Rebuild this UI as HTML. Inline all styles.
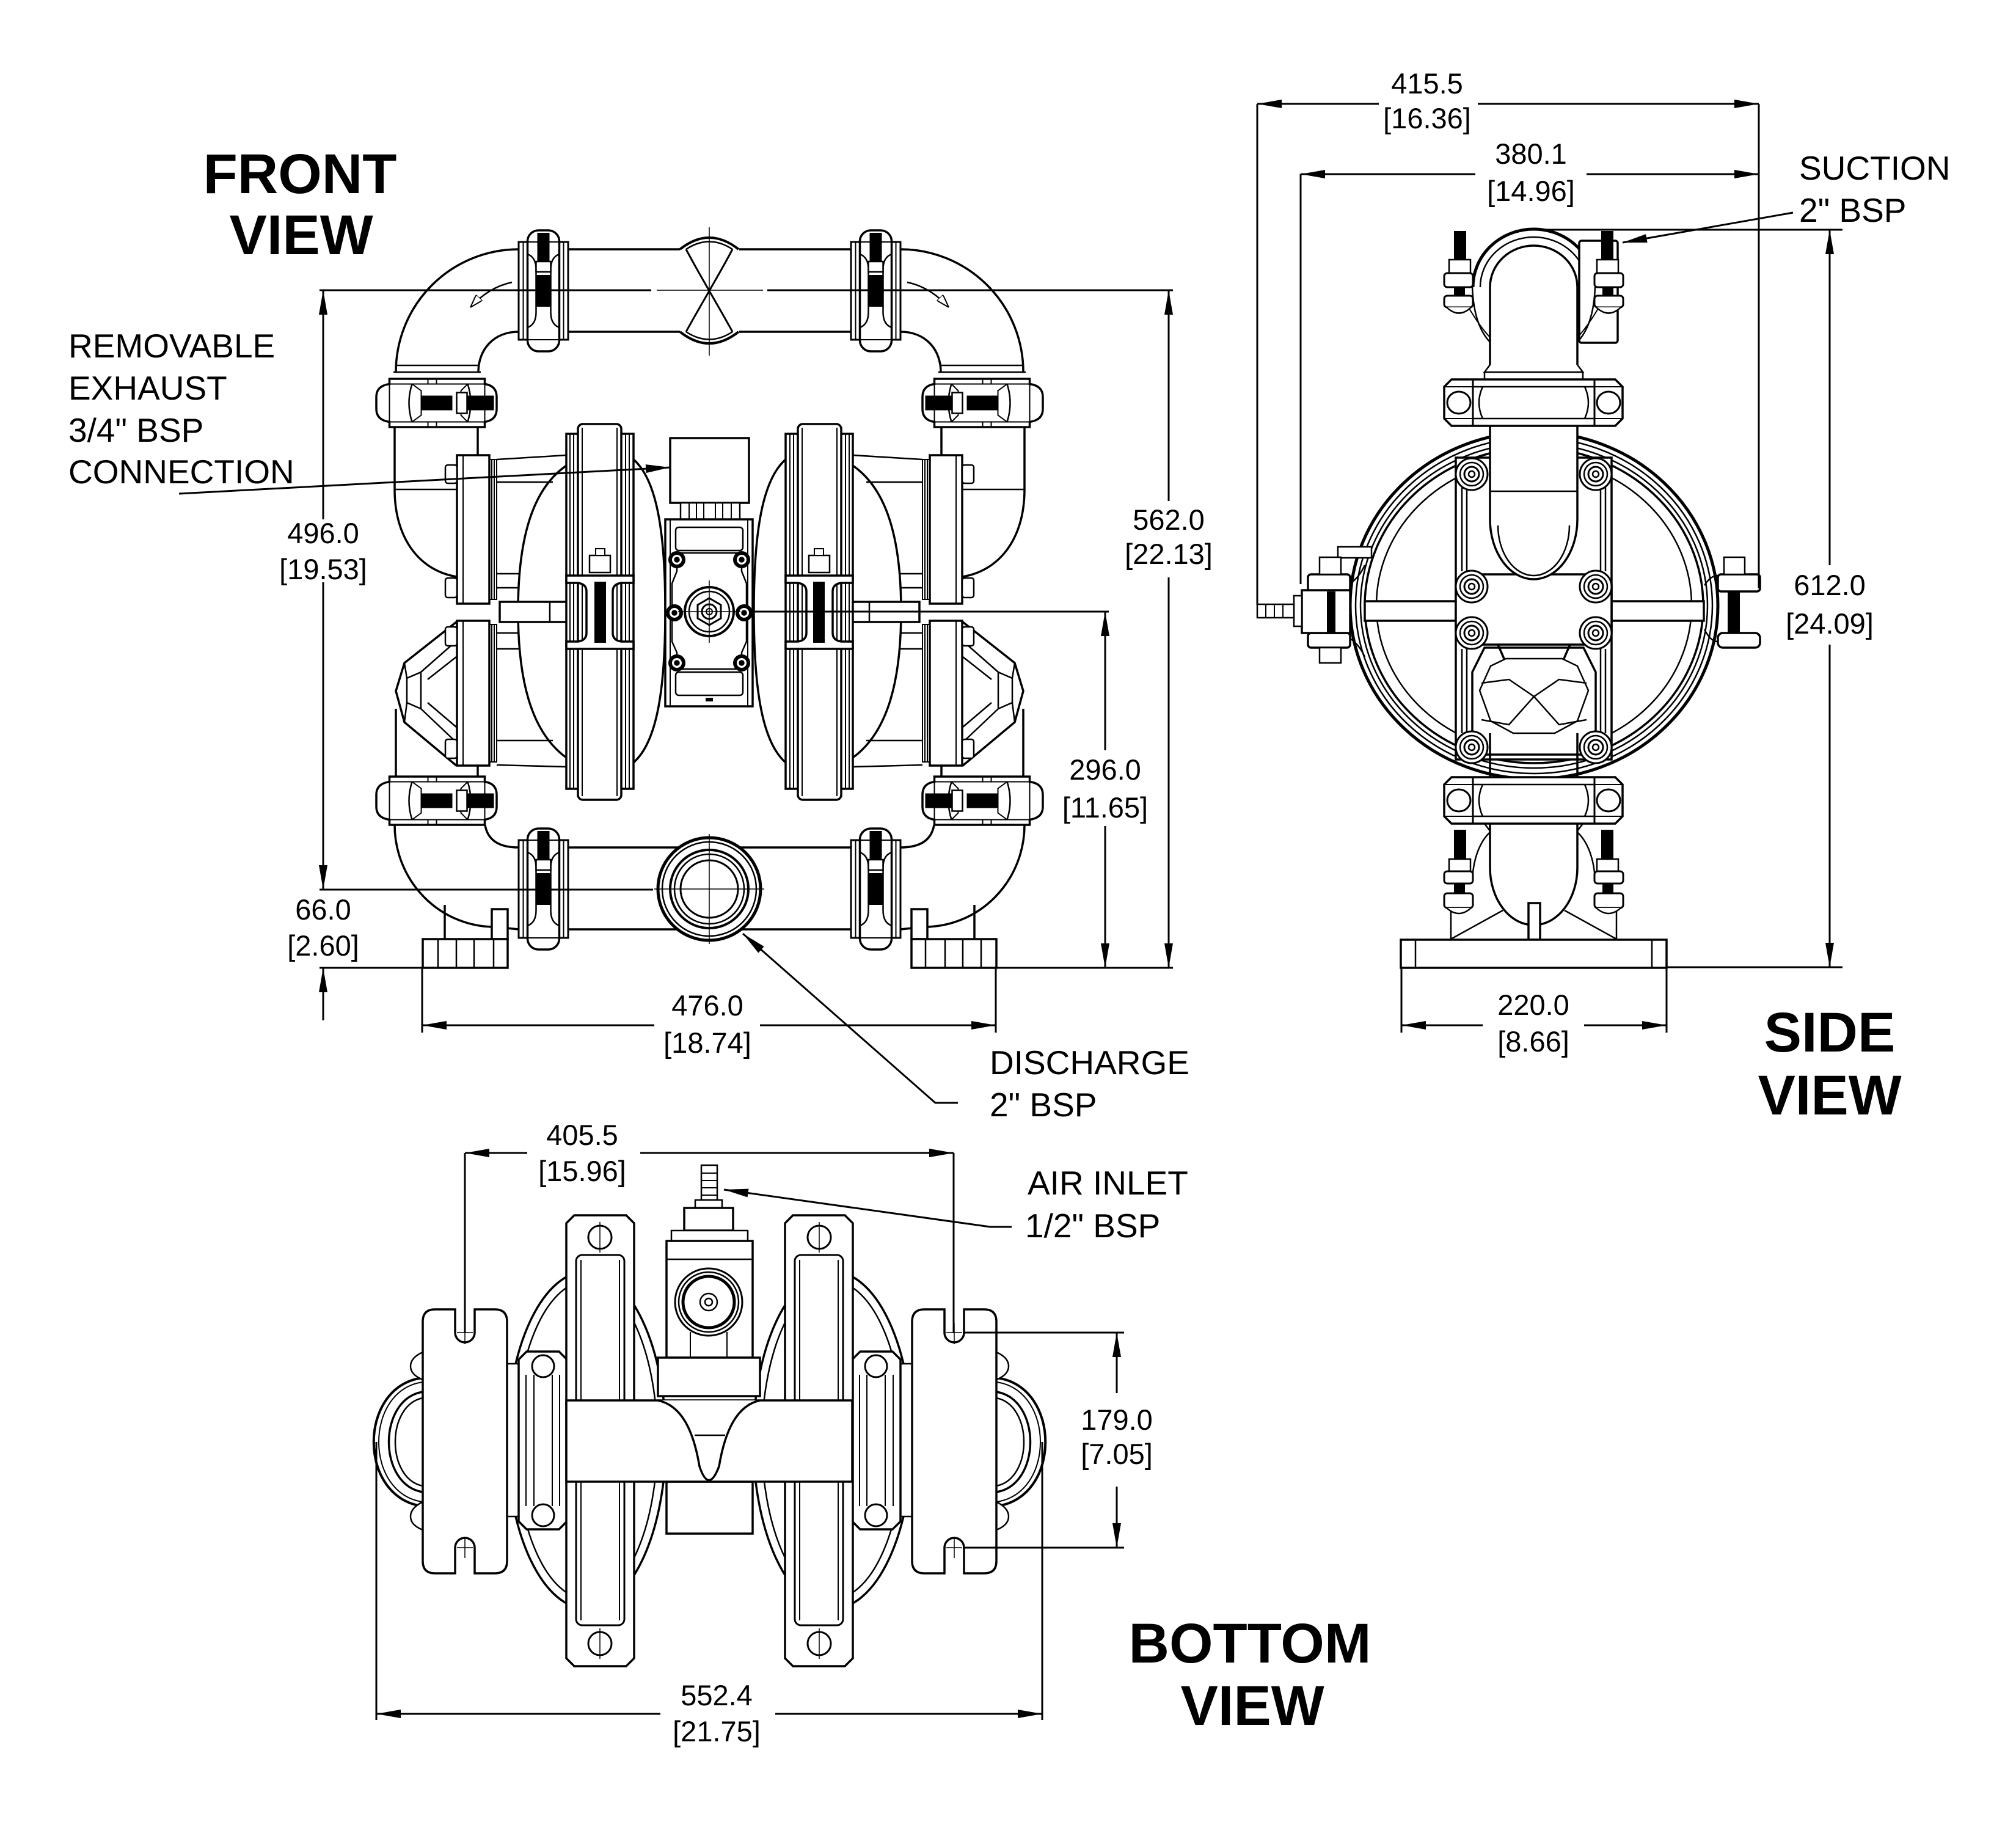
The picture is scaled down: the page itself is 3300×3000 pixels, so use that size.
<!DOCTYPE html>
<html><head><meta charset="utf-8">
<style>
html,body{margin:0;padding:0;background:#fff;}
svg{display:block;}
text{font-family:"Liberation Sans",Arial,sans-serif;fill:#000;stroke:none;}
.d{font-size:47px;text-anchor:middle;}
.l{font-size:55px;}
.t{font-size:92px;font-weight:bold;text-anchor:middle;}
</style></head><body>
<svg width="3300" height="3000" viewBox="0 0 3300 3000" xmlns="http://www.w3.org/2000/svg">
<defs>
<marker id="ar" viewBox="0 0 40 14" refX="40" refY="7" markerWidth="40" markerHeight="14" orient="auto" markerUnits="userSpaceOnUse"><path d="M0,0L40,7L0,14z" fill="#000"/></marker>
<marker id="sm" viewBox="0 0 22 14" refX="22" refY="7" markerWidth="22" markerHeight="14" orient="auto" markerUnits="userSpaceOnUse"><path d="M0,0L22,7L0,14z" fill="#fff" stroke="#000" stroke-width="2"/></marker>
<g id="hc" stroke="#000" fill="#fff">
 <path d="M-77,-39.5 L79,-39.5 L79,-31 Q98.5,-28 98.5,-10 L98.5,10 Q98.5,28 79,31 L79,39.5 L-77,39.5 L-77,31 Q-98.5,28 -98.5,10 L-98.5,-10 Q-98.5,-28 -77,-31 Z" stroke-width="3.5"/>
 <path d="M-77,-31 L79,-31 M-77,31 L79,31 M-77,-31 L-77,31 M79,-31 L79,31" fill="none" stroke-width="2"/>
 <path d="M-40,-31 Q-50,0 -40,31 M51,-31 Q61,0 51,31" fill="none" stroke-width="2.5"/>
 <path d="M-40,-31 L-25,-20 L-25,20 L-40,31 M51,-31 L40,-20 L40,20 L51,31" fill="none" stroke-width="2"/>
 <path d="M-14,-39.5 L-14,-31 M0,-39.5 L0,-31 M-14,39.5 L-14,31 M0,39.5 L0,31" fill="none" stroke-width="2"/>
 <rect x="-25" y="-12" width="51" height="24" fill="#000" stroke="none"/>
 <rect x="50" y="-12" width="44" height="24" fill="#000" stroke="none"/>
 <rect x="33" y="-17" width="17" height="34" stroke-width="2.5"/>
</g>
<g id="vc" stroke="#000" fill="#fff">
 <rect x="-40.5" y="-80" width="81" height="160" stroke-width="3"/>
 <path d="M-33,-80 V80 M33,-80 V80" fill="none" stroke-width="2"/>
 <rect x="-26" y="-99" width="52" height="198" rx="18" stroke-width="3.5"/>
 <path d="M-26,-80 L26,-80 M-26,80 L26,80" fill="none" stroke-width="2"/>
 <path d="M-26,-60 Q-12,-55 -12,-35 L-12,35 Q-12,55 -26,60 M26,-60 Q12,-55 12,-35 L12,35 Q12,55 26,60" fill="none" stroke-width="2.5"/>
 <rect x="-10" y="-95" width="20" height="46" fill="#000" stroke="none"/>
 <rect x="-12" y="-48" width="24" height="17" stroke-width="2.5"/>
 <rect x="-11" y="-26" width="22" height="52" fill="#000" stroke="none"/>
</g>
<g id="sc" stroke="#000" fill="#fff">
 <path d="M2376,0 L2644,0 L2656,12 L2656,64 L2644,76 L2376,76 L2364,64 L2364,12 Z" stroke-width="3.5"/>
 <path d="M2411,0 V76 M2610,0 V76" fill="none" stroke-width="3"/>
 <path d="M2364,12 H2411 M2364,64 H2411 M2610,12 H2656 M2610,64 H2656" fill="none" stroke-width="2"/>
 <path d="M2411,12 L2610,12 M2411,64 L2610,64" fill="none" stroke-width="2.5"/>
 <path d="M2427,12 Q2415,38 2427,64 M2594,12 Q2606,38 2594,64" fill="none" stroke-width="2.5"/>
 <ellipse cx="2388" cy="38" rx="19" ry="18" stroke-width="3"/>
 <ellipse cx="2633" cy="38" rx="19" ry="18" stroke-width="3"/>
</g>
<g id="bb">
 <circle r="26" fill="#fff" stroke="#000" stroke-width="3"/>
 <circle r="19" fill="none" stroke="#000" stroke-width="2.5"/>
 <circle r="12" fill="none" stroke="#000" stroke-width="3"/>
 <circle r="5" fill="none" stroke="#000" stroke-width="2.5"/>
</g>
<g id="vb">
 <circle r="11" fill="#fff" stroke="#000" stroke-width="6"/>
 <circle r="3" fill="#000"/>
</g>
</defs>

<!-- FRONT VIEW LEFT HALF -->
<g id="FL" fill="none" stroke="#000" stroke-width="3.5">
 <path d="M930,408 L1113,408 M930,543 L1113,543"/>
 <path d="M849,408 A201,201 0 0 0 648,609"/>
 <path d="M849,543 C808,543 783,572 783,609"/>
 <path d="M648,598 L783,598 M644,609 L787,609" stroke-width="2.5"/>
 <path d="M838,462 Q800,470 770,503" stroke-width="2.5" marker-end="url(#sm)"/>
 <path d="M646,699 L646,801 C646,885 690,935 748,944"/>
 <path d="M782,699 L782,745"/>
 <path d="M646,801 L748,801" stroke-width="2.5"/>
 <path d="M648,1160 L648,1271 M782,1253 L782,1271"/>
 <path d="M747,1018 L662,1085 L648,1131 L662,1182 L747,1253" fill="#fff"/>
 <path d="M747,1049 L689,1100 L666,1110 L666,1150 L689,1160 L747,1215 M689,1100 L689,1160 M662,1085 L666,1110 M662,1182 L666,1150 M747,1075 L700,1112 M747,1190 L700,1150" stroke-width="2.5"/>
 <path d="M646,1350 A164,167 0 0 0 810,1517 L849,1521"/>
 <path d="M794,1350 Q800,1387 849,1387"/>
 <path d="M930,1387 L1161,1387 M930,1521 L1161,1521"/>
 <path d="M728,1481 L728,1537"/>
 <rect x="805" y="1488" width="26" height="49" fill="#fff"/>
 <rect x="692" y="1537" width="139" height="47" fill="#fff"/>
 <path d="M717,1537 V1584 M747,1537 V1584 M776,1537 V1584 M808,1537 V1584" stroke-width="2.5"/>
 <path d="M927,762 C872,800 848,880 848,1000 C848,1120 872,1200 927,1240"/>
 <path d="M1037,752 C1075,785 1089,870 1089,1000 C1089,1130 1075,1215 1037,1248"/>
 <path d="M813,752 L927,745 M813,789 L905,789 M813,939 L850,939 M813,962 L849,962 M813,1036 L849,1036 M813,1062 L850,1062 M813,1212 L905,1212 M813,1252 L927,1255" stroke-width="2.5"/>
 <rect x="748" y="745" width="53" height="243" fill="#fff"/>
 <line x1="758" y1="745" x2="758" y2="988" stroke-width="2"/>
 <path d="M801,752 L813,752 L813,981 L801,981 M805,752 V981 M809,752 V981" stroke-width="2"/>
 <rect x="748" y="1016" width="53" height="237" fill="#fff"/>
 <line x1="758" y1="1016" x2="758" y2="1253" stroke-width="2"/>
 <path d="M801,1022 L813,1022 L813,1247 L801,1247 M805,1022 V1247 M809,1022 V1247" stroke-width="2"/>
 <rect x="729" y="761" width="19" height="30" rx="4" fill="#fff" stroke-width="2.5"/>
 <rect x="729" y="946" width="19" height="32" rx="4" fill="#fff" stroke-width="2.5"/>
 <rect x="729" y="1026" width="19" height="31" rx="4" fill="#fff" stroke-width="2.5"/>
 <rect x="729" y="1210" width="19" height="31" rx="4" fill="#fff" stroke-width="2.5"/>
 <rect x="818" y="985" width="114" height="33" fill="#fff"/>
 <line x1="900" y1="985" x2="900" y2="1018" stroke-width="2.5"/>
 <rect x="927" y="710" width="110" height="581" fill="#fff"/>
 <path d="M933,710 V1291 M939,710 V1291 M1024,710 V1291 M1030,710 V1291" stroke-width="2"/>
 <rect x="946" y="694" width="71" height="615" rx="8" fill="#fff"/>
 <path d="M953,700 V1303 M1010,700 V1303" stroke-width="2"/>
 <path d="M927,942 L1037,942 L1037,954 L1017,954 Q1003,956 1003,968 L1003,1036 Q1003,1048 1017,1050 L1037,1050 L1037,1062 L927,1062 L927,1050 L946,1050 Q960,1048 960,1036 L960,968 Q960,956 946,954 L927,954 Z" fill="#fff"/>
 <rect x="973" y="952" width="19" height="100" fill="#000" stroke="none"/>
 <rect x="965" y="909" width="34" height="28" fill="#fff" stroke-width="2.5"/>
 <rect x="975" y="898" width="15" height="11" fill="#fff" stroke-width="2"/>
 <use href="#hc" transform="translate(714.5,659.5)"/>
 <use href="#hc" transform="translate(714.5,1310.5)"/>
 <use href="#vc" transform="translate(889.5,476)"/>
 <use href="#vc" transform="translate(889.5,1455)"/>
</g>
<use href="#FL" transform="translate(2323,0) scale(-1,1)"/>

<!-- FRONT center -->
<g fill="none" stroke="#000" stroke-width="3.5">
 <path d="M1113,408 Q1161,370 1209,408" stroke-width="4"/>
 <path d="M1123,408 Q1161,383 1199,408" stroke-width="2.5"/>
 <path d="M1113,543 Q1161,581 1209,543" stroke-width="4"/>
 <path d="M1123,543 Q1161,568 1199,543" stroke-width="2.5"/>
 <path d="M1123,408 C1140,440 1152,460 1161,476 C1152,492 1140,512 1123,543 M1199,408 C1182,440 1170,460 1161,476 C1170,492 1182,512 1199,543" stroke-width="3"/>
 <line x1="1161" y1="372" x2="1161" y2="582" stroke-width="1.5"/>
 <rect x="1097" y="717" width="129" height="106" fill="#fff"/>
 <rect x="1114" y="823" width="97" height="27" fill="#fff" stroke-width="2.5"/>
 <path d="M1128,823 V850 M1140,823 V850 M1152,823 V850 M1171,823 V850 M1183,823 V850 M1197,823 V850" stroke-width="2"/>
 <rect x="1089" y="850" width="143" height="306" fill="#fff"/>
 <path d="M1097,850 V1156 M1224,850 V1156" stroke-width="2"/>
 <rect x="1106" y="863" width="110" height="38" rx="5" stroke-width="2.5"/>
 <rect x="1106" y="1100" width="110" height="38" rx="5" stroke-width="2.5"/>
 <path d="M1108,905 L1108,935 L1100,955 L1100,1050 L1108,1068 L1108,1095 M1214,905 L1214,935 L1222,955 L1222,1050 L1214,1068 L1214,1095 M1108,905 L1214,905 M1108,1095 L1214,1095" stroke-width="2.5"/>
 <use href="#vb" x="1108" y="916"/><use href="#vb" x="1214" y="916"/>
 <use href="#vb" x="1104" y="1003"/><use href="#vb" x="1218" y="1003"/>
 <use href="#vb" x="1108" y="1085"/><use href="#vb" x="1214" y="1085"/>
 <circle cx="1161" cy="1001" r="40" fill="#fff" stroke-width="4"/>
 <circle cx="1161" cy="1001" r="33" stroke-width="2.5"/>
 <polygon points="1161,979 1180,990 1180,1012 1161,1023 1142,1012 1142,990" stroke-width="3"/>
 <circle cx="1161" cy="1001" r="12" stroke-width="3"/>
 <circle cx="1161" cy="1001" r="5" stroke-width="2"/>
 <path d="M1161,950 V1052 M1110,1001 H1212" stroke-width="1.5"/>
 <rect x="1155" y="1142" width="12" height="6" fill="#000" stroke="none"/>
 <circle cx="1161" cy="1455" r="84" fill="#fff" stroke-width="5"/>
 <circle cx="1161" cy="1455" r="77" stroke-width="2.5"/>
 <circle cx="1161" cy="1455" r="64" stroke-width="4"/>
 <circle cx="1161" cy="1455" r="57" stroke-width="2.5"/>
 <circle cx="1161" cy="1455" r="47" stroke-width="3"/>
 <path d="M1161,1365 V1545 M1071,1455 H1251" stroke-width="1.5"/>
</g>

<!-- SIDE VIEW -->
<g fill="none" stroke="#000" stroke-width="3.5">
 <ellipse cx="2511" cy="991" rx="301" ry="284" stroke-width="5"/>
 <ellipse cx="2511" cy="991" rx="292" ry="275" stroke-width="2.5"/>
 <ellipse cx="2511" cy="991" rx="284" ry="266" stroke-width="2.5"/>
 <ellipse cx="2511" cy="991" rx="277" ry="258" stroke-width="3.5"/>
 <ellipse cx="2511" cy="991" rx="258" ry="240" stroke-width="2.5"/>
 <rect x="2234" y="984" width="555" height="32" fill="#fff"/>
 <rect x="2383" y="749" width="255" height="494" fill="#fff"/>
 <path d="M2393,796 V935 M2401,796 V935 M2620,796 V935 M2628,796 V935 M2393,1062 V1200 M2401,1062 V1200 M2620,1062 V1200 M2628,1062 V1200" stroke-width="2.5"/>
 <rect x="2383" y="940" width="255" height="115" rx="18" fill="#fff"/>
 <path d="M2439,697 L2439,850 A71.5,98 0 0 0 2582,850 L2582,697" fill="#fff"/>
 <path d="M2439,804 L2582,804" stroke-width="2.5"/>
 <path d="M2452,860 A58.5,82 0 0 0 2569,860" stroke-width="2.5"/>
 <path d="M2430,1060 L2592,1060 L2612,1100 L2612,1200 L2592,1235 L2430,1235 L2410,1200 L2410,1100 Z" fill="#fff"/>
 <path d="M2440,1090 L2465,1078 L2557,1078 L2582,1090 L2600,1130 L2582,1180 L2545,1200 L2477,1200 L2440,1180 L2422,1130 Z" stroke-width="2.5"/>
 <path d="M2425,1118 L2470,1112 L2511,1140 L2552,1112 L2597,1118 M2425,1178 L2470,1186 L2511,1140 L2552,1186 L2597,1178" stroke-width="2.5"/>
 <path d="M2452,1055 L2462,1078 M2570,1055 L2560,1078 M2439,1200 L2439,1275 M2582,1200 L2582,1275" />
 <use href="#bb" x="2409" y="776"/><use href="#bb" x="2612" y="776"/>
 <use href="#bb" x="2409" y="960"/><use href="#bb" x="2612" y="960"/>
 <use href="#bb" x="2409" y="1036"/><use href="#bb" x="2612" y="1036"/>
 <use href="#bb" x="2409" y="1223"/><use href="#bb" x="2612" y="1223"/>
 <path d="M2439,470 L2439,597 M2582,470 L2582,597"/>
 <path d="M2439,597 L2430,609 L2591,609 L2582,597" stroke-width="2.5"/>
 <path d="M2430,609 V621 M2591,609 V621" stroke-width="2.5"/>
 <use href="#sc" transform="translate(0,621)"/>
 <use href="#sc" transform="translate(0,1272)"/>
 <path d="M2439,470 A71.5,68 0 0 1 2582,470"/>
 <path d="M2411,470 A99.5,95 0 0 1 2610,470" stroke-width="5"/>
 <path d="M2423,470 A87.5,82 0 0 1 2598,470" stroke-width="2.5"/>
 <rect x="2585" y="394" width="63" height="167" rx="4" fill="#fff"/>
 <path d="M2439,1348 L2439,1420 A71.5,94 0 0 0 2582,1420 L2582,1348"/>
 <path d="M2430,1348 L2439,1360 M2591,1348 L2582,1360" stroke-width="2.5"/>
 <rect x="2502" y="1478" width="19" height="60" fill="#fff"/>
 <path d="M2373,1538 L2460,1490 M2648,1538 L2561,1490 M2375,1486 V1538 M2646,1486 V1538" stroke-width="2.5"/>
 <rect x="2293" y="1538" width="435" height="46" fill="#fff"/>
 <path d="M2317,1538 V1584 M2704,1538 V1584" stroke-width="2.5"/>
 <!-- air valve -->
 <path d="M2210,955 Q2225,945 2234,925 M2210,1045 Q2225,1055 2234,1075" stroke-width="2.5"/>
 <rect x="2190" y="895" width="55" height="18" fill="#fff" stroke-width="2.5"/>
 <rect x="2141" y="940" width="69" height="28" rx="5" fill="#fff"/>
 <rect x="2141" y="1036" width="69" height="24" rx="5" fill="#fff"/>
 <rect x="2131" y="966" width="79" height="70" fill="#fff"/>
 <rect x="2172" y="968" width="14" height="68" fill="#000" stroke="none"/>
 <rect x="2160" y="912" width="35" height="28" fill="#fff" stroke-width="2.5"/>
 <rect x="2160" y="1060" width="35" height="25" fill="#fff" stroke-width="2.5"/>
 <rect x="2118" y="975" width="13" height="50" fill="#fff" stroke-width="2.5"/>
 <rect x="2058" y="989" width="60" height="22" fill="#fff" stroke-width="2.5"/>
 <path d="M2072,989 V1011 M2086,989 V1011 M2100,989 V1011" stroke-width="2"/>
 <!-- right lug -->
 <path d="M2790,958 Q2800,942 2812,942 M2790,1030 Q2800,1050 2812,1050" stroke-width="2.5"/>
 <rect x="2812" y="940" width="69" height="28" rx="5" fill="#fff"/>
 <rect x="2812" y="1036" width="69" height="24" rx="8" fill="#fff"/>
 <rect x="2828" y="968" width="20" height="68" fill="#000" stroke="none"/>
 <rect x="2822" y="912" width="34" height="28" fill="#fff" stroke-width="2.5"/>
</g>
<g id="SL" fill="none" stroke="#000" stroke-width="3">
 <path d="M2410,470 C2412,520 2425,545 2439,560" stroke-width="2.5"/>
 <path d="M2405,505 C2420,530 2432,545 2439,552" stroke-width="2"/>
 <path d="M2410,1440 C2412,1400 2425,1375 2439,1362" stroke-width="2.5"/>
 <rect x="2380" y="378" width="20" height="48" fill="#000" stroke="none"/>
 <rect x="2372" y="425" width="35" height="22" fill="#fff" stroke-width="2.5"/>
 <rect x="2364" y="447" width="47" height="23" rx="5" fill="#fff"/>
 <rect x="2380" y="470" width="18" height="14" fill="#000" stroke="none"/>
 <rect x="2364" y="484" width="47" height="19" rx="5" fill="#fff"/>
 <path d="M2368,503 Q2388,522 2408,503" fill="#fff" stroke-width="2.5"/>
 <rect x="2380" y="1358" width="20" height="48" fill="#000" stroke="none"/>
 <rect x="2372" y="1406" width="35" height="20" fill="#fff" stroke-width="2.5"/>
 <rect x="2364" y="1426" width="47" height="20" rx="5" fill="#fff"/>
 <rect x="2380" y="1446" width="18" height="16" fill="#000" stroke="none"/>
 <rect x="2364" y="1462" width="47" height="24" rx="5" fill="#fff"/>
 <path d="M2368,1486 Q2388,1504 2408,1486" fill="#fff" stroke-width="2.5"/>
</g>
<use href="#SL" transform="translate(5021,0) scale(-1,1)"/>

<!-- BOTTOM VIEW LEFT HALF -->
<g id="BL" fill="none" stroke="#000" stroke-width="3.5">
 <path d="M692,2255 C585,2268 585,2452 692,2465" stroke-width="4"/>
 <path d="M692,2262 C596,2275 596,2445 692,2458" stroke-width="2"/>
 <path d="M692,2278 C618,2290 618,2430 692,2442" stroke-width="3.5"/>
 <path d="M692,2288 C632,2300 632,2420 692,2432" stroke-width="2.5"/>
 <path d="M692,2213 Q672,2222 672,2236 Q672,2250 692,2258" fill="#fff" stroke-width="2.5"/>
 <path d="M692,2458 Q672,2468 672,2482 Q672,2496 692,2504" fill="#fff" stroke-width="2.5"/>
 <ellipse cx="960" cy="2357" rx="130" ry="276" fill="#fff"/>
 <ellipse cx="960" cy="2357" rx="116" ry="260" stroke-width="2.5"/>
 <rect x="830" y="2232" width="19" height="250" fill="#fff" stroke-width="2.5"/>
 <path d="M862,2212 L915,2212 L928,2225 L928,2490 L915,2503 L862,2503 L849,2490 L849,2225 Z" fill="#fff"/>
 <path d="M861,2250 V2465 M874,2250 V2465 M904,2250 V2465 M916,2250 V2465" stroke-width="2"/>
 <circle cx="889" cy="2236" r="18" stroke-width="3"/>
 <circle cx="889" cy="2480" r="18" stroke-width="3"/>
 <path d="M712,2143 L745,2143 L745,2181 A16,16 0 0 0 777,2181 L777,2143 L810,2143 Q830,2143 830,2163 L830,2555 Q830,2575 810,2575 L777,2575 L777,2533 A16,16 0 0 0 745,2533 L745,2575 L712,2575 Q692,2575 692,2555 L692,2163 Q692,2143 712,2143 Z" fill="#fff"/>
 <path d="M761,2165 V2200 M748,2181 H774 M761,2515 V2550 M748,2533 H774" stroke-width="1.5"/>
 <path d="M940,1989 L1025,1989 L1038,2002 L1038,2714 L1025,2727 L940,2727 L927,2714 L927,2002 Z" fill="#fff"/>
 <rect x="943" y="2054" width="79" height="606" rx="10" stroke-width="3"/>
 <path d="M951,2062 V2652 M1014,2062 V2652" stroke-width="2"/>
 <circle cx="982" cy="2025" r="19" stroke-width="3"/>
 <circle cx="982" cy="2690" r="19" stroke-width="3"/>
 <path d="M982,2000 V2050 M982,2665 V2715" stroke-width="1.5"/>
</g>
<use href="#BL" transform="translate(2323,0) scale(-1,1)"/>

<!-- BOTTOM center -->
<g fill="none" stroke="#000" stroke-width="3.5">
 <rect x="1091" y="2425" width="141" height="85" fill="#fff"/>
 <rect x="927" y="2292" width="468" height="133" fill="#fff"/>
 <rect x="1148" y="1907" width="26" height="57" fill="#fff" stroke-width="2.5"/>
 <path d="M1148,1920 H1174 M1148,1932 H1174 M1148,1944 H1174 M1148,1956 H1174" stroke-width="2"/>
 <rect x="1138" y="1964" width="44" height="13" fill="#fff" stroke-width="2.5"/>
 <rect x="1120" y="1977" width="80" height="37" fill="#fff"/>
 <rect x="1099" y="2014" width="125" height="17" fill="#fff" stroke-width="2.5"/>
 <rect x="1091" y="2031" width="141" height="191" fill="#fff"/>
 <path d="M1091,2061 H1232" stroke-width="2.5"/>
 <circle cx="1160" cy="2131" r="55" stroke-width="3"/>
 <circle cx="1160" cy="2131" r="49" stroke-width="2.5"/>
 <circle cx="1160" cy="2131" r="42" stroke-width="5"/>
 <circle cx="1160" cy="2131" r="14" stroke-width="2.5"/>
 <circle cx="1160" cy="2131" r="6" stroke-width="2.5"/>
 <path d="M1130,2180 V2222 M1190,2180 V2222" stroke-width="2"/>
 <rect x="1077" y="2222" width="167" height="63" fill="#fff"/>
 <path d="M1077,2292 C1115,2300 1135,2340 1145,2400 Q1160,2445 1177,2400 C1187,2340 1207,2300 1244,2292" fill="#fff"/>
 <path d="M1137,2349 L1187,2349" stroke-width="2.5"/>
</g>

<!-- DIMENSIONS -->
<g fill="none" stroke="#000" stroke-width="3">
 <line x1="523" y1="475" x2="1066" y2="475"/>
 <line x1="1256" y1="475" x2="1920" y2="475"/>
 <line x1="1075" y1="475" x2="1249" y2="475" stroke-width="1.5"/>
 <line x1="529" y1="850" x2="529" y2="475" marker-end="url(#ar)"/>
 <line x1="529" y1="953" x2="529" y2="1456" marker-end="url(#ar)"/>
 <line x1="523" y1="1456" x2="1069" y2="1456"/>
 <line x1="523" y1="1584" x2="692" y2="1584"/>
 <line x1="1630" y1="1584" x2="1920" y2="1584"/>
 <line x1="529" y1="1670" x2="529" y2="1584" marker-end="url(#ar)"/>
 <line x1="1913" y1="820" x2="1913" y2="475" marker-end="url(#ar)"/>
 <line x1="1913" y1="945" x2="1913" y2="1584" marker-end="url(#ar)"/>
 <line x1="1232" y1="1001" x2="1815" y2="1001"/>
 <line x1="1809" y1="1228" x2="1809" y2="1001" marker-end="url(#ar)"/>
 <line x1="1809" y1="1352" x2="1809" y2="1584" marker-end="url(#ar)"/>
 <line x1="691" y1="1584" x2="691" y2="1690"/>
 <line x1="1630" y1="1584" x2="1630" y2="1690"/>
 <line x1="1071" y1="1678" x2="691" y2="1678" marker-end="url(#ar)"/>
 <line x1="1244" y1="1678" x2="1630" y2="1678" marker-end="url(#ar)"/>
 <polyline points="293,808 1097,765" marker-end="url(#ar)"/>
 <polyline points="1568,1805 1531,1805 1216,1528" marker-end="url(#ar)"/>

 <line x1="2257" y1="170" x2="2058" y2="170" marker-end="url(#ar)"/>
 <line x1="2419" y1="170" x2="2879" y2="170" marker-end="url(#ar)"/>
 <line x1="2058" y1="170" x2="2058" y2="990"/>
 <line x1="2879" y1="170" x2="2879" y2="963"/>
 <line x1="2415" y1="285" x2="2129" y2="285" marker-end="url(#ar)"/>
 <line x1="2597" y1="285" x2="2879" y2="285" marker-end="url(#ar)"/>
 <line x1="2129" y1="285" x2="2129" y2="956"/>
 <line x1="2497" y1="376" x2="3016" y2="376"/>
 <line x1="2728" y1="1583" x2="3016" y2="1583"/>
 <line x1="2995" y1="925" x2="2995" y2="376" marker-end="url(#ar)"/>
 <line x1="2995" y1="1055" x2="2995" y2="1583" marker-end="url(#ar)"/>
 <line x1="2294" y1="1585" x2="2294" y2="1690"/>
 <line x1="2728" y1="1585" x2="2728" y2="1690"/>
 <line x1="2427" y1="1678" x2="2294" y2="1678" marker-end="url(#ar)"/>
 <line x1="2593" y1="1678" x2="2728" y2="1678" marker-end="url(#ar)"/>
 <polyline points="2935,348 2656,397" marker-end="url(#ar)"/>

 <line x1="863" y1="1887" x2="761" y2="1887" marker-end="url(#ar)"/>
 <line x1="1048" y1="1887" x2="1561" y2="1887" marker-end="url(#ar)"/>
 <line x1="761" y1="1887" x2="761" y2="2181"/>
 <line x1="1561" y1="1887" x2="1561" y2="2181"/>
 <line x1="1576" y1="2181" x2="1840" y2="2181"/>
 <line x1="1576" y1="2533" x2="1840" y2="2533"/>
 <line x1="1828" y1="2280" x2="1828" y2="2181" marker-end="url(#ar)"/>
 <line x1="1828" y1="2433" x2="1828" y2="2533" marker-end="url(#ar)"/>
 <line x1="616" y1="2360" x2="616" y2="2815"/>
 <line x1="1706" y1="2360" x2="1706" y2="2815"/>
 <line x1="1081" y1="2805" x2="616" y2="2805" marker-end="url(#ar)"/>
 <line x1="1269" y1="2805" x2="1706" y2="2805" marker-end="url(#ar)"/>
 <polyline points="1656,2008 1621,2008 1185,1947" marker-end="url(#ar)"/>
</g>

<!-- TEXT -->
<text class="t" x="491" y="316">FRONT</text>
<text class="t" x="493" y="416">VIEW</text>
<text class="t" x="2995" y="1721">SIDE</text>
<text class="t" x="2995" y="1824">VIEW</text>
<text class="t" x="2046" y="2721">BOTTOM</text>
<text class="t" x="2050" y="2823">VIEW</text>

<text class="l" x="112" y="585">REMOVABLE</text>
<text class="l" x="112" y="654">EXHAUST</text>
<text class="l" x="112" y="723">3/4" BSP</text>
<text class="l" x="112" y="791">CONNECTION</text>
<text class="l" x="1620" y="1758">DISCHARGE</text>
<text class="l" x="1620" y="1827">2" BSP</text>
<text class="l" x="2945" y="294">SUCTION</text>
<text class="l" x="2945" y="363">2" BSP</text>
<text class="l" x="1682" y="1955">AIR INLET</text>
<text class="l" x="1678" y="2025">1/2" BSP</text>

<text class="d" x="529" y="889">496.0</text>
<text class="d" x="529" y="948">[19.53]</text>
<text class="d" x="529" y="1505">66.0</text>
<text class="d" x="529" y="1564">[2.60]</text>
<text class="d" x="1913" y="867">562.0</text>
<text class="d" x="1913" y="923">[22.13]</text>
<text class="d" x="1809" y="1276">296.0</text>
<text class="d" x="1809" y="1338">[11.65]</text>
<text class="d" x="1158" y="1662">476.0</text>
<text class="d" x="1158" y="1723">[18.74]</text>
<text class="d" x="2336" y="153">415.5</text>
<text class="d" x="2336" y="210">[16.36]</text>
<text class="d" x="2506" y="268">380.1</text>
<text class="d" x="2506" y="329">[14.96]</text>
<text class="d" x="2995" y="974">612.0</text>
<text class="d" x="2995" y="1037">[24.09]</text>
<text class="d" x="2510" y="1661">220.0</text>
<text class="d" x="2510" y="1721">[8.66]</text>
<text class="d" x="953" y="1874">405.5</text>
<text class="d" x="953" y="1933">[15.96]</text>
<text class="d" x="1828" y="2340">179.0</text>
<text class="d" x="1828" y="2396">[7.05]</text>
<text class="d" x="1173" y="2791">552.4</text>
<text class="d" x="1173" y="2850">[21.75]</text>
</svg>
</body></html>
